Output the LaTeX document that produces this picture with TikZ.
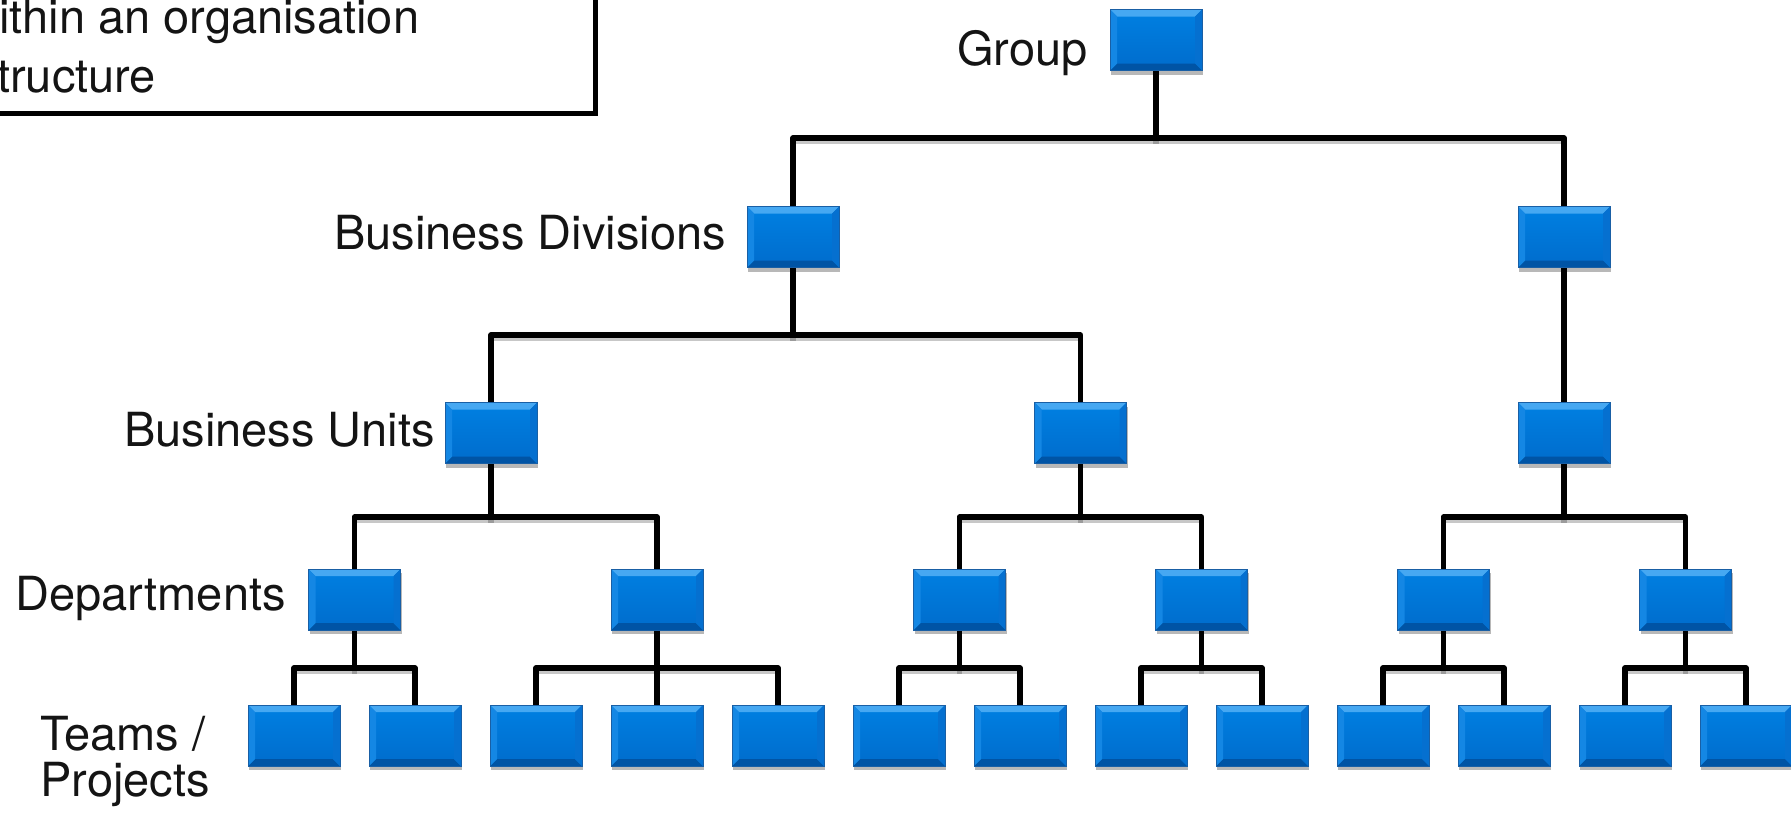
\documentclass[tikz,border=0pt]{standalone}
\usepackage{fontspec}
\setmainfont{TeX Gyre Heros}
\usetikzlibrary{calc,shadows}
\pgfdeclarelayer{background}
\pgfsetlayers{background,main}

\definecolor{faceTop}{RGB}{0,128,226}
\definecolor{faceBot}{RGB}{0,108,204}
\definecolor{bevTop}{RGB}{70,168,242}
\definecolor{bevLeft}{RGB}{20,135,228}
\definecolor{bevRight}{RGB}{5,112,208}
\definecolor{bevBot}{RGB}{0,84,165}
\definecolor{edgeBlue}{RGB}{25,95,165}

\tikzset{
  unit/.style={
    minimum width=92pt, minimum height=61pt, inner sep=0pt,
    draw=edgeBlue, line width=0.6pt,
    top color=faceTop, bottom color=faceBot,
    drop shadow={shadow xshift=1pt, shadow yshift=-4pt, opacity=0.28, fill=black},
    path picture={
      \coordinate (bnw) at (path picture bounding box.north west);
      \coordinate (bne) at (path picture bounding box.north east);
      \coordinate (bsw) at (path picture bounding box.south west);
      \coordinate (bse) at (path picture bounding box.south east);
      \fill[bevTop] (bnw) -- (bne) -- ($(bne)+(-7pt,-7pt)$) -- ($(bnw)+(7pt,-7pt)$) -- cycle;
      \fill[bevBot] (bsw) -- (bse) -- ($(bse)+(-7pt,7pt)$) -- ($(bsw)+(7pt,7pt)$) -- cycle;
      \fill[bevLeft] (bnw) -- ($(bnw)+(7pt,-7pt)$) -- ($(bsw)+(7pt,7pt)$) -- (bsw) -- cycle;
      \fill[bevRight] (bne) -- ($(bne)+(-7pt,-7pt)$) -- ($(bse)+(-7pt,7pt)$) -- (bse) -- cycle;
    }},
  conn/.style={line width=5.5pt, line join=round, black,
    preaction={draw, line width=5.5pt, black, opacity=0.22, transform canvas={yshift=-3pt}}},
  lbl/.style={font=\fontsize{47}{47}\selectfont, inner sep=0pt, text=black!92},
}

\begin{document}
\begin{tikzpicture}[x=1pt,y=-1pt]
\useasboundingbox (0,0) rectangle (1791,814);

% caption box, partly outside the page
\begin{scope}
  \clip (0,0) rectangle (1791,814);
  \draw[line width=5pt] (-40,-40) rectangle (595,113);
  \node[lbl, anchor=base west] (cap1) at (-1,33) {ithin an organisation};
  \node[lbl, anchor=base west] (cap2) at (-3,92) {tructure};
\end{scope}

% level labels
\node[lbl, anchor=base east] (lg) at (1088,65) {Group};
\node[lbl, anchor=base east] (ld) at (726,249) {Business Divisions};
\node[lbl, anchor=base east] (lu) at (435,446) {Business Units};
\node[lbl, anchor=base east] (lp) at (286,610) {Departments};
\node[lbl, anchor=base west] (lt1) at (40,750) {Teams /};
\node[lbl, anchor=base west] (lt2) at (40,796) {Projects};

% boxes
\node[unit] (g) at (1156,40) {};
\node[unit] (d1) at (793,237) {};
\node[unit] (d2) at (1564,237) {};
\node[unit] (u1) at (491,433) {};
\node[unit] (u2) at (1080.5,433) {};
\node[unit] (u3) at (1564,433) {};
\node[unit] (p1) at (354.5,599.5) {};
\node[unit] (p2) at (657,599.5) {};
\node[unit] (p3) at (959.5,599.5) {};
\node[unit] (p4) at (1201.5,599.5) {};
\node[unit] (p5) at (1443.5,599.5) {};
\node[unit] (p6) at (1685.5,599.5) {};
\foreach \i in {0,...,12} {
  \node[unit] (t\i) at ({294+121*\i},735.5) {};
}

% connectors
\begin{pgfonlayer}{background}
  \draw[conn] (g) -- (g |- 0,138) -| (d1);
  \draw[conn] (g) -- (g |- 0,138) -| (d2);
  \draw[conn] (d1) -- (d1 |- 0,335) -| (u1);
  \draw[conn] (d1) -- (d1 |- 0,335) -| (u2);
  \draw[conn] (d2) -- (u3);
  \draw[conn] (u1) -- (u1 |- 0,517) -| (p1);
  \draw[conn] (u1) -- (u1 |- 0,517) -| (p2);
  \draw[conn] (u2) -- (u2 |- 0,517) -| (p3);
  \draw[conn] (u2) -- (u2 |- 0,517) -| (p4);
  \draw[conn] (u3) -- (u3 |- 0,517) -| (p5);
  \draw[conn] (u3) -- (u3 |- 0,517) -| (p6);
  \draw[conn] (p1) -- (p1 |- 0,668) -| (t0);
  \draw[conn] (p1) -- (p1 |- 0,668) -| (t1);
  \draw[conn] (p2) -- (p2 |- 0,668) -| (t2);
  \draw[conn] (p2) -- (t3);
  \draw[conn] (p2) -- (p2 |- 0,668) -| (t4);
  \draw[conn] (p3) -- (p3 |- 0,668) -| (t5);
  \draw[conn] (p3) -- (p3 |- 0,668) -| (t6);
  \draw[conn] (p4) -- (p4 |- 0,668) -| (t7);
  \draw[conn] (p4) -- (p4 |- 0,668) -| (t8);
  \draw[conn] (p5) -- (p5 |- 0,668) -| (t9);
  \draw[conn] (p5) -- (p5 |- 0,668) -| (t10);
  \draw[conn] (p6) -- (p6 |- 0,668) -| (t11);
  \draw[conn] (p6) -- (p6 |- 0,668) -| (t12);
\end{pgfonlayer}
\end{tikzpicture}
\end{document}
